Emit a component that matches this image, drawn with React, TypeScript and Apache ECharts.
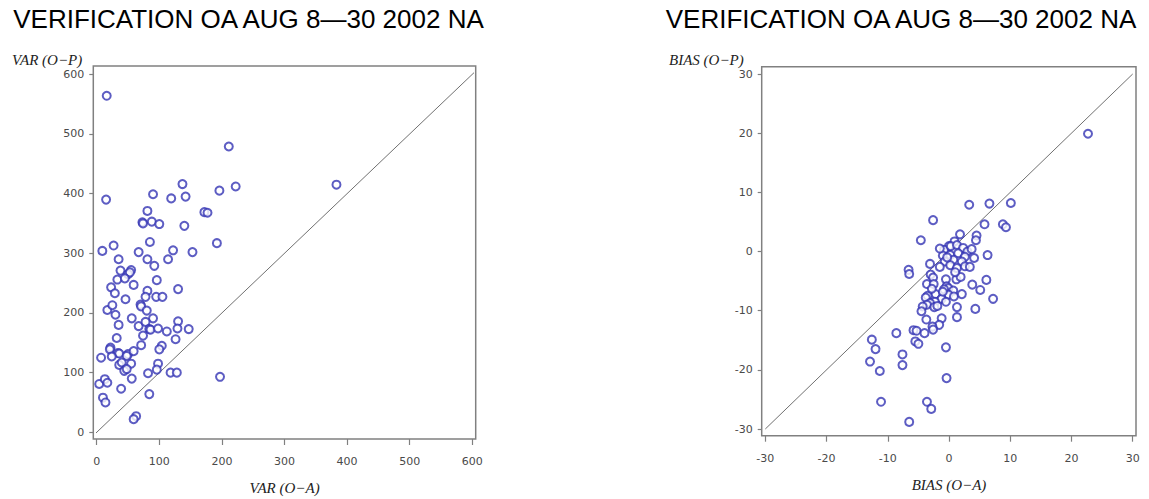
import React, { useEffect, useRef } from "react";
import * as echarts from "echarts";

const TITLE = "VERIFICATION OA AUG 8—30 2002 NA";
const VAR_X_NAME = "VAR (O−A)";
const VAR_Y_NAME = "VAR (O−P)";
const BIAS_X_NAME = "BIAS (O−A)";
const BIAS_Y_NAME = "BIAS (O−P)";

const varTicks = { min: 0, max: 600, interval: 100 };
const biasTicks = { min: -30, max: 30, interval: 10 };

// VAR(O-A), VAR(O-P)
const varPoints: [number, number][] = [
  [16, 564], [211, 479], [137, 416], [222, 412], [383, 415], [196, 405], [90, 399], [142, 395],
  [119, 392], [15, 390], [81, 371], [172, 369], [177, 368], [73, 352], [74, 350], [88, 353],
  [100, 349], [140, 346], [27, 313], [85, 319], [192, 317], [9, 304], [67, 302], [122, 305],
  [153, 302], [35, 290], [81, 290], [114, 290], [92, 279], [38, 271], [55, 272], [50, 265],
  [53, 268], [33, 256], [45, 258], [96, 255], [23, 243], [59, 247], [29, 233], [81, 237],
  [130, 240], [46, 223], [78, 227], [95, 227], [105, 227], [17, 205], [25, 213], [70, 214],
  [71, 211], [80, 204], [30, 197], [56, 191], [90, 191], [35, 180], [67, 178], [78, 185],
  [130, 186], [84, 173], [86, 172], [98, 174], [112, 169], [129, 174], [147, 173], [74, 162],
  [32, 158], [126, 156], [71, 146], [104, 145], [22, 142], [21, 139], [100, 139], [34, 133],
  [36, 132], [50, 131], [48, 128], [59, 136], [7, 125], [24, 127], [36, 113], [40, 117],
  [55, 115], [44, 103], [48, 106], [98, 115], [96, 105], [82, 99], [118, 100], [128, 100],
  [197, 93], [4, 81], [13, 89], [17, 83], [39, 73], [56, 90], [84, 64], [10, 58],
  [14, 50], [63, 27], [59, 22],
];

// BIAS(O-A), BIAS(O-P)
const biasPoints: [number, number][] = [
  [22.7, 19.9], [3.3, 7.9], [6.6, 8.1], [10.1, 8.2], [-2.6, 5.3], [5.8, 4.6], [8.8, 4.6], [9.3, 4.1],
  [-4.6, 1.9], [1.8, 2.9], [4.5, 2.7], [4.4, 1.9], [0.9, 1.7], [0.0, 0.9], [-0.8, 0.3], [0.3, 0.9],
  [1.3, 1.1], [2.3, 0.6], [3.0, 0.0], [3.7, 0.4], [-1.0, -0.7], [0.2, -0.6], [1.5, -0.3], [2.6, -0.9],
  [4.1, -1.1], [6.3, -0.6], [-0.7, -1.7], [0.7, -1.4], [2.1, -1.7], [-3.1, -2.1], [-1.5, -2.6], [0.2, -2.3],
  [1.3, -2.8], [2.6, -2.5], [3.4, -2.6], [-6.6, -3.1], [-6.5, -3.8], [-3.0, -3.9], [-2.6, -4.4], [-0.5, -4.7],
  [1.2, -4.7], [1.9, -4.3], [6.1, -4.8], [-3.6, -5.5], [-2.5, -5.5], [-0.4, -5.9], [-0.1, -6.2], [-0.8, -6.4],
  [0.7, -6.6], [3.8, -5.6], [5.1, -6.5], [-2.2, -7.2], [-3.5, -7.5], [-3.8, -7.8], [-0.1, -7.3], [0.8, -7.6],
  [2.1, -7.2], [-1.2, -8.0], [-2.3, -8.5], [-0.5, -8.5], [-3.1, -8.7], [-3.6, -9.0], [-4.3, -9.3], [-2.4, -9.4],
  [-1.9, -9.2], [-4.5, -10.1], [1.3, -9.4], [4.3, -9.7], [7.2, -8.0], [-3.7, -11.5], [-1.2, -11.3], [1.3, -11.1],
  [-1.6, -12.4], [-2.7, -12.7], [-2.6, -13.2], [-5.8, -13.3], [-5.3, -13.4], [-4.0, -13.8], [-8.6, -13.8], [-5.5, -15.2],
  [-5.0, -15.6], [-12.6, -14.9], [-12.0, -16.5], [-0.5, -16.2], [-7.6, -17.4], [-7.6, -19.2], [-12.9, -18.6], [-11.3, -20.2],
  [-0.4, -21.4], [-11.1, -25.4], [-3.6, -25.4], [-2.9, -26.6], [-6.5, -28.8], [-1.5, 0.5], [-0.3, -1.0], [1.0, -3.5],
  [-1.0, -6.8], [-2.8, -6.3],
];

// y = x reference lines
const varDiagonal: [number, number][] = [[-5, -5], [607, 607]];
const biasDiagonal: [number, number][] = [[-30, -30], [30, 30]];

const POINT_COLOR = "#3434b4";
const FRAME_COLOR = "#808080";
const LABEL_COLOR = "#4a4a4a";

export default function App() {
  const ref = useRef<HTMLDivElement>(null);
  useEffect(() => {
    if (!ref.current) return;
    const chart = echarts.init(ref.current, null, { renderer: "svg" });

    const axisCommon = (offset: number, margin: number, tickLen: number) => ({
      type: "value" as const,
      offset,
      axisLine: { show: false, onZero: false },
      axisTick: { show: true, length: tickLen, lineStyle: { color: FRAME_COLOR, width: 1.2 } },
      axisLabel: { color: LABEL_COLOR, fontSize: 11, fontFamily: "DejaVu Sans", margin },
      splitLine: { show: false },
    });

    const scatterStyle = {
      type: "scatter" as const,
      symbol: "emptyCircle",
      symbolSize: 8,
      itemStyle: { color: POINT_COLOR, borderColor: POINT_COLOR, borderWidth: 0.9 },
    };
    const lineStyle = {
      type: "line" as const,
      symbol: "none",
      clip: false,
      lineStyle: { color: "#707070", width: 1 },
      z: 1,
    };

    const axisNameStyle = {
      fill: "#222",
      fontSize: 15,
      fontStyle: "italic",
      fontFamily: "Liberation Serif",
    };

    chart.setOption({
      animation: false,
      backgroundColor: "#fff",
      grid: [
        { left: 96.7, top: 74.3, width: 375.6, height: 358 },
        { left: 765.3, top: 74, width: 367.4, height: 355 },
      ],
      xAxis: [
        { ...axisCommon(6.7, 17, 6), gridIndex: 0, ...varTicks },
        { ...axisCommon(6.7, 17, 6), gridIndex: 1, ...biasTicks },
      ],
      yAxis: [
        { ...axisCommon(3.4, 9, 4), gridIndex: 0, ...varTicks },
        { ...axisCommon(3.6, 9, 4), gridIndex: 1, ...biasTicks },
      ],
      series: [
        { ...lineStyle, xAxisIndex: 0, yAxisIndex: 0, data: varDiagonal },
        { ...lineStyle, xAxisIndex: 1, yAxisIndex: 1, data: biasDiagonal },
        { ...scatterStyle, xAxisIndex: 0, yAxisIndex: 0, data: varPoints },
        { ...scatterStyle, xAxisIndex: 1, yAxisIndex: 1, data: biasPoints },
      ],
      graphic: [
        {
          type: "rect",
          shape: { x: 93.3, y: 66, width: 382.4, height: 373 },
          style: { fill: "none", stroke: FRAME_COLOR, lineWidth: 1.5 },
          silent: true,
        },
        {
          type: "rect",
          shape: { x: 761.7, y: 66.7, width: 374.3, height: 369 },
          style: { fill: "none", stroke: FRAME_COLOR, lineWidth: 1.5 },
          silent: true,
        },
        {
          type: "text",
          x: 248.5,
          y: 18.5,
          style: {
            text: TITLE,
            fill: "#000",
            fontSize: 26,
            fontFamily: "Liberation Sans",
            align: "center",
            verticalAlign: "middle",
          },
        },
        {
          type: "text",
          x: 901,
          y: 18.5,
          style: {
            text: TITLE,
            fill: "#000",
            fontSize: 26,
            fontFamily: "Liberation Sans",
            align: "center",
            verticalAlign: "middle",
          },
        },
        {
          type: "text",
          x: 12,
          y: 60,
          style: { ...axisNameStyle, text: VAR_Y_NAME, align: "left", verticalAlign: "middle" },
        },
        {
          type: "text",
          x: 284.5,
          y: 488,
          style: { ...axisNameStyle, text: VAR_X_NAME, align: "center", verticalAlign: "middle" },
        },
        {
          type: "text",
          x: 669,
          y: 60,
          style: { ...axisNameStyle, text: BIAS_Y_NAME, align: "left", verticalAlign: "middle" },
        },
        {
          type: "text",
          x: 949,
          y: 485,
          style: { ...axisNameStyle, text: BIAS_X_NAME, align: "center", verticalAlign: "middle" },
        },
      ],
    });
    return () => chart.dispose();
  }, []);
  return (
    <div
      ref={ref}
      style={{ position: "absolute", left: 0, top: 0, width: 1149, height: 499 }}
    />
  );
}
